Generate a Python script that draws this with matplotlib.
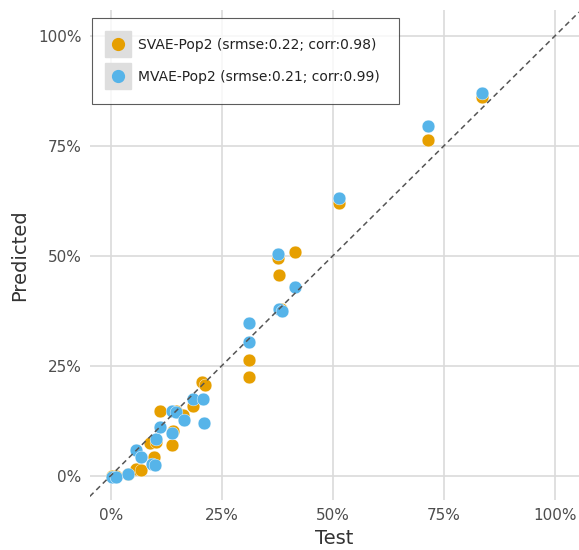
import matplotlib
matplotlib.use("Agg")
import matplotlib.pyplot as plt
from matplotlib.lines import Line2D
from matplotlib.legend_handler import HandlerTuple
from matplotlib.ticker import FuncFormatter

# test vs. predicted shares for the two models
test_svae = [0.002, 0.011, 0.039, 0.058, 0.069, 0.088, 0.098, 0.103, 0.110, 0.138,
             0.140, 0.146, 0.163, 0.185, 0.205, 0.213, 0.311, 0.311, 0.377, 0.379,
             0.384, 0.414, 0.514, 0.714, 0.836]
pred_svae = [0.000, 0.000, 0.005, 0.016, 0.012, 0.074, 0.042, 0.076, 0.148, 0.070,
             0.101, 0.147, 0.139, 0.159, 0.212, 0.207, 0.264, 0.224, 0.495, 0.457,
             0.378, 0.508, 0.621, 0.764, 0.862]

test_mvae = [0.002, 0.011, 0.039, 0.057, 0.069, 0.092, 0.099, 0.103, 0.110, 0.138,
             0.138, 0.146, 0.165, 0.185, 0.208, 0.210, 0.311, 0.311, 0.377, 0.379,
             0.386, 0.416, 0.515, 0.714, 0.836]
pred_mvae = [-0.002, -0.002, 0.005, 0.058, 0.042, 0.026, 0.024, 0.083, 0.110, 0.097,
             0.148, 0.145, 0.127, 0.175, 0.175, 0.121, 0.348, 0.303, 0.504, 0.379,
             0.374, 0.429, 0.631, 0.795, 0.870]

labels = ["SVAE-Pop2 (srmse:0.22; corr:0.98)",
          "MVAE-Pop2 (srmse:0.21; corr:0.99)"]
colors = ["#E69F00", "#56B4E9"]
ticks = [0, 0.25, 0.5, 0.75, 1.0]

fig = plt.figure(figsize=(5.79, 5.5), dpi=100)
ax = fig.add_axes([0.155, 0.091, 0.845, 0.891])

ax.scatter(test_svae, pred_svae, s=85, color=colors[0], edgecolors="white",
           linewidths=0.3, zorder=3)
ax.scatter(test_mvae, pred_mvae, s=85, color=colors[1], edgecolors="white",
           linewidths=0.3, zorder=4)
ax.axline((0, 0), slope=1, color="#555555", lw=1.1, ls=(0, (3.5, 2.5)), zorder=5)

ax.set_xlim(-0.047, 1.054)
ax.set_ylim(-0.055, 1.059)
ax.set_xticks(ticks)
ax.set_yticks(ticks)
pct = FuncFormatter(lambda v, p: f"{v * 100:.0f}%")
ax.xaxis.set_major_formatter(pct)
ax.yaxis.set_major_formatter(pct)
ax.tick_params(length=0, labelsize=11, labelcolor="#4D4D4D", pad=6)
ax.grid(True, color="#DADADA", lw=1.2)
ax.set_axisbelow(True)
for s in ax.spines.values():
    s.set_visible(False)

ax.set_xlabel("Test", fontsize=14, color="#333333", labelpad=4)
ax.set_ylabel("Predicted", fontsize=14, color="#333333", labelpad=6)

# legend keys: grey square with the coloured dot on top
handles = []
for c in colors:
    bg = Line2D([], [], marker="s", ms=19, color="#DEDEDE", ls="none")
    dot = Line2D([], [], marker="o", ms=8.5, color=c, ls="none")
    handles.append((bg, dot))
leg = ax.legend(handles, labels, handler_map={tuple: HandlerTuple(ndivide=1)},
                loc="upper left", bbox_to_anchor=(0.004, 0.984), fontsize=10,
                frameon=True, fancybox=False, edgecolor="#333333",
                borderpad=1.45, labelspacing=1.3, handlelength=0.9,
                handletextpad=0.95, borderaxespad=0)
leg.get_frame().set_linewidth(0.8)
for t in leg.get_texts():
    t.set_color("#222222")

fig.savefig("out.png", dpi=100)
